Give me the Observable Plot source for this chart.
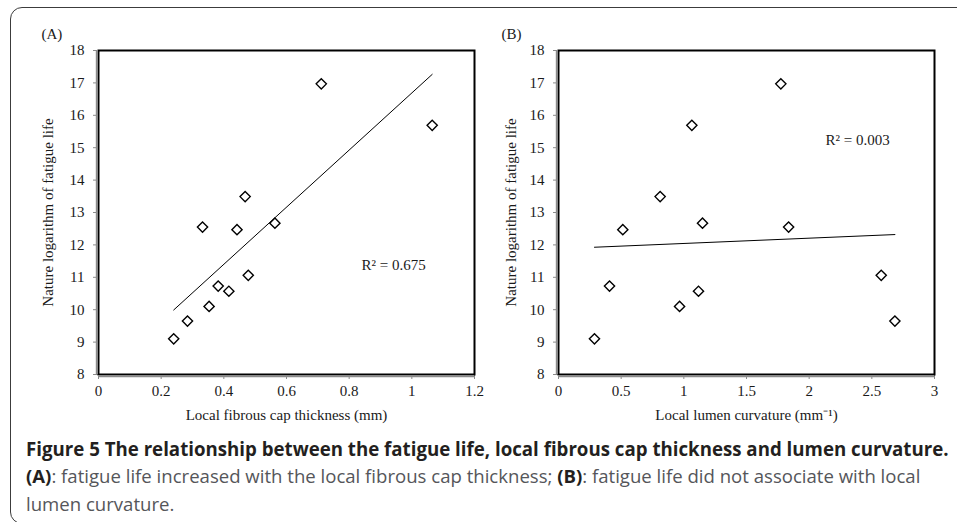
<!DOCTYPE html>
<html><head><meta charset="utf-8">
<script src="https://cdn.jsdelivr.net/npm/d3@7"></script>
<script src="https://cdn.jsdelivr.net/npm/@observablehq/plot@0.6"></script>
<style>
html,body{margin:0;padding:0;background:#fff;}
#page{position:relative;width:957px;height:522px;overflow:hidden;background:#fff;}
#border{position:absolute;left:10px;top:7px;width:1000px;height:517px;border:1.6px solid #3c3c3c;border-radius:12px;box-sizing:border-box;}
#pa{position:absolute;left:0;top:0;}
#pb{position:absolute;left:478px;top:0;}
#pa svg text, #pb svg text{font-size:15px;}
#cap{position:absolute;left:0;top:0;pointer-events:none;}
</style></head><body>
<div id="page"><div id="border"></div><div id="pa"></div><div id="pb"></div><svg id="cap" width="957" height="522"></svg></div>
<script>
// Natural log of fatigue life (shared by both panels)
const lnLife = [16.97, 15.69, 13.49, 12.67, 12.55, 12.47, 11.06, 10.73, 10.57, 10.10, 9.65, 9.10];
// Panel A: local fibrous cap thickness (mm)
const capThickness = [0.711, 1.065, 0.468, 0.563, 0.332, 0.442, 0.478, 0.382, 0.416, 0.353, 0.284, 0.240];
// Panel B: local lumen curvature (mm^-1)
const lumenCurvature = [1.774, 1.064, 0.811, 1.149, 1.836, 0.513, 2.575, 0.407, 1.117, 0.966, 2.684, 0.287];

const yTicks = [8, 9, 10, 11, 12, 13, 14, 15, 16, 17, 18];
const xTicksA = [0, 0.2, 0.4, 0.6, 0.8, 1, 1.2];
const xTicksB = [0, 0.5, 1, 1.5, 2, 2.5, 3];
const yTitle = "Nature logarithm of fatigue life";
const xTitleA = "Local fibrous cap thickness (mm)";
const xTitleB = "Local lumen curvature (mm\u207B\u00B9)";
const r2A = {x: 0.942, y: 11.36, label: "R\u00B2 = 0.675"};
const r2B = {x: 2.386, y: 15.22, label: "R\u00B2 = 0.003"};

const serif = '"Liberation Serif", "Times New Roman", serif';
const grey = "#8a8a8a";

function panel({xs, xTicks, width, marginLeft, marginRight, xTitle, tag, tagDx, yDx, r2}) {
  const data = lnLife.map((y, i) => ({x: xs[i], y}));
  const xDomain = [xTicks[0], xTicks[xTicks.length - 1]];
  return Plot.plot({
    width, height: 430,
    marginLeft, marginRight, marginTop: 50, marginBottom: 56,
    style: {fontFamily: serif, fontSize: "15px", color: "#1a1a1a", background: "transparent", overflow: "visible"},
    x: {domain: xDomain},
    y: {domain: [yTicks[0], yTicks[yTicks.length - 1]]},
    marks: [
      Plot.axisX({ticks: xTicks, tickFormat: d => String(d), tickSize: 5, tickPadding: 6, stroke: grey, fill: "#1a1a1a", label: null, fontSize: 15}),
      Plot.axisY({ticks: yTicks, tickFormat: d => String(d), tickSize: 5, tickPadding: 9, stroke: grey, fill: "#1a1a1a", label: null, fontSize: 15}),
      Plot.frame({stroke: "#000", strokeWidth: 2}),
      Plot.ruleX([xDomain[0]], {stroke: grey, strokeWidth: 2.2, dx: -1.6}),
      Plot.ruleY([yTicks[0]], {stroke: grey, strokeWidth: 2.2, dy: 1.6}),
      Plot.linearRegressionY(data, {x: "x", y: "y", stroke: "#000", strokeWidth: 1, ci: 0}),
      Plot.dot(data, {x: "x", y: "y", symbol: "diamond2", r: 4.6, stroke: "#000", strokeWidth: 1.4, fill: "#fff"}),
      Plot.text([r2], {x: "x", y: "y", text: "label", textAnchor: "middle", lineAnchor: "middle", fontSize: 15, fill: "#1a1a1a"}),
      Plot.text([xTitle], {frameAnchor: "bottom", dy: 41, text: d => d, textAnchor: "middle", lineAnchor: "middle", fontSize: 15, fill: "#1a1a1a"}),
      Plot.text([yTitle], {frameAnchor: "left", dx: yDx, rotate: -90, text: d => d, textAnchor: "middle", lineAnchor: "middle", fontSize: 15, fill: "#1a1a1a"}),
      Plot.text([tag], {frameAnchor: "top-left", dx: tagDx, dy: -16, text: d => d, textAnchor: "start", lineAnchor: "middle", fontSize: 15, fill: "#1a1a1a"})
    ]
  });
}

document.getElementById("pa").append(panel({
  xs: capThickness, xTicks: xTicksA, width: 480, marginLeft: 98, marginRight: 6,
  xTitle: xTitleA, tag: "(A)", tagDx: -57, yDx: -50, r2: r2A
}));
document.getElementById("pb").append(panel({
  xs: lumenCurvature, xTicks: xTicksB, width: 479, marginLeft: 80, marginRight: 23,
  xTitle: xTitleB, tag: "(B)", tagDx: -57, yDx: -47, r2: r2B
}));

// Caption
const capLines = [
  {y: 456, size: 20, target: 923, parts: [
    {t: "Figure 5 The relationship between the fatigue life, local fibrous cap thickness and lumen curvature.", w: 700, c: "#231f20"}]},
  {y: 483.5, size: 18, target: 895, parts: [
    {t: "(A)", w: 700, c: "#231f20"},
    {t: ": fatigue life increased with the local fibrous cap thickness; ", w: 400, c: "#55565a"},
    {t: "(B)", w: 700, c: "#231f20"},
    {t: ": fatigue life did not associate with local", w: 400, c: "#55565a"}]},
  {y: 511.5, size: 18, target: null, parts: [
    {t: "lumen curvature.", w: 400, c: "#55565a"}]}
];
const cap = d3.select("#cap");
const x0 = 26;
let lastScale = 1;
capLines.forEach(line => {
  const t = cap.append("text").attr("x", x0).attr("y", line.y)
    .attr("font-family", '"Open Sans", "Noto Sans", sans-serif')
    .attr("font-size", line.size).attr("xml:space", "preserve");
  line.parts.forEach(p => t.append("tspan").attr("font-weight", p.w).attr("fill", p.c).text(p.t));
  const w = t.node().getComputedTextLength();
  const s = line.target ? line.target / w : lastScale;
  lastScale = s;
  t.attr("transform", `translate(${x0},0) scale(${s},1) translate(${-x0},0)`);
});
</script>
</body></html>
